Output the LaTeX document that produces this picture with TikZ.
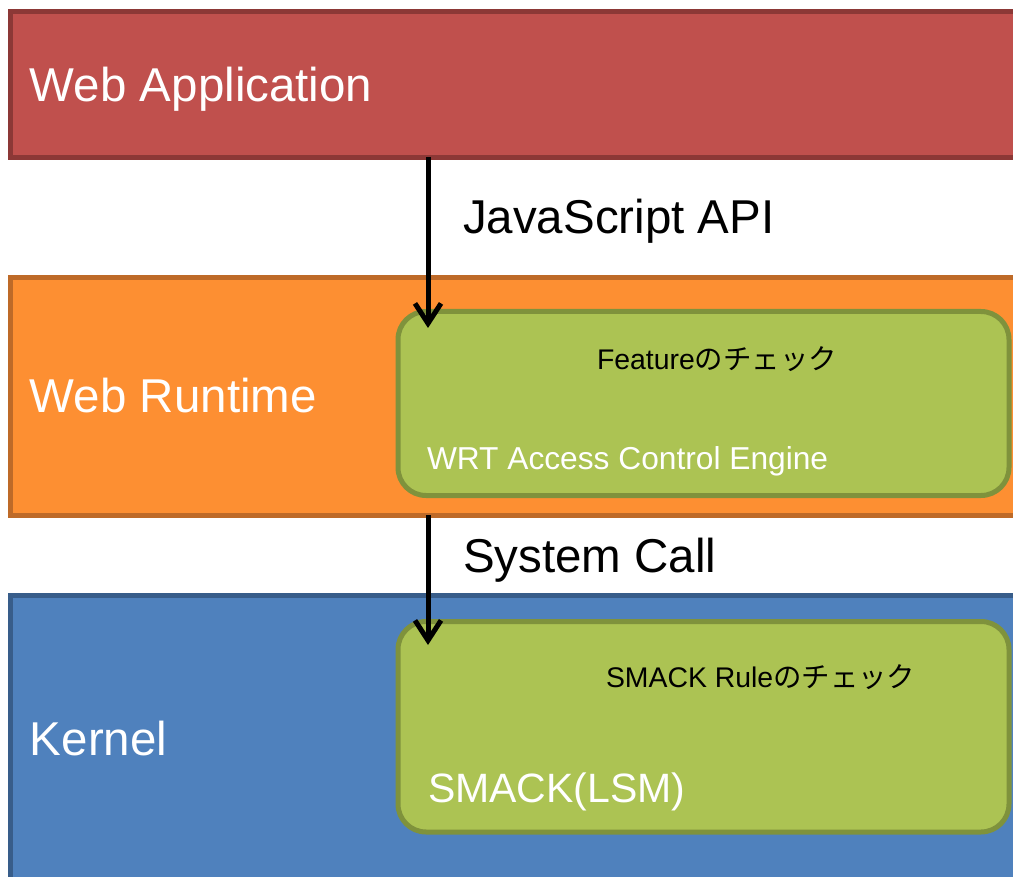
\documentclass[tikz,border=0pt]{standalone}
\usepackage{fontspec}
\setmainfont{Liberation Sans}
\newfontfamily\jpfont{Noto Sans CJK JP}
\usetikzlibrary{arrows.meta}

\definecolor{appfill}{HTML}{C0504D}
\definecolor{appline}{HTML}{8C3836}
\definecolor{wrtfill}{HTML}{FD8F32}
\definecolor{wrtline}{HTML}{BE6A28}
\definecolor{kerfill}{HTML}{4F81BD}
\definecolor{kerline}{HTML}{385D8A}
\definecolor{engfill}{HTML}{ACC353}
\definecolor{engline}{HTML}{7F923C}

\tikzset{
  layer/.style={rectangle, anchor=north west, inner sep=0pt, outer sep=0pt,
    line width=5pt, minimum width=1019.5pt},
  engine/.style={rectangle, rounded corners=28pt, anchor=north west,
    inner sep=0pt, outer sep=0pt, line width=5pt, draw=engline, fill=engfill,
    minimum width=611pt},
  lbl/.style={anchor=base west, inner sep=0pt, outer sep=0pt},
  big/.style={font=\fontsize{47.5}{57}\selectfont},
  mid/.style={font=\fontsize{41}{49}\selectfont},
  small/.style={font=\fontsize{28.4}{34}\selectfont},
  eng/.style={font=\fontsize{31.7}{38}\selectfont},
  call/.style={line width=5pt, -{Straight Barb[length=20pt, width=26pt, line width=5pt]}},
}

\begin{document}
\begin{tikzpicture}[x=1pt, y=-1pt]
  \clip (0,0) rectangle (1013,877);

  % layers
  \node[layer, draw=appline, fill=appfill, minimum height=146pt] (app) at (10.5,11.5) {};
  \node[layer, draw=wrtline, fill=wrtfill, minimum height=237.5pt] (wrt) at (10.5,277.5) {};
  \node[layer, draw=kerline, fill=kerfill, minimum height=400pt] (ker) at (10.5,595.5) {};

  % access control engines
  \node[engine, minimum height=184pt] (ace) at (398,311.5) {};
  \node[engine, minimum height=210.5pt] (smack) at (398,621.5) {};

  % layer names
  \node[lbl, big, text=white] (appname) at (30,102) {Web Application};
  \node[lbl, big, text=white] (wrtname) at (30,413) {Web Runtime};
  \node[lbl, big, text=white] (kername) at (30,755) {Kernel};

  % engine texts
  \node[lbl, small] (acecheck) at (597,370) {Feature{\jpfont のチェック}};
  \node[lbl, eng, text=white] (acename) at (427,470) {WRT Access Control Engine};
  \node[lbl, small] (smackcheck) at (606,687) {SMACK Rule{\jpfont のチェック}};
  \node[lbl, mid, text=white] (smackname) at (428,802) {SMACK(LSM)};

  % interface labels
  \node[lbl, big] (jsapi) at (463,234) {JavaScript API};
  \node[lbl, big] (syscall) at (463,572) {System Call};

  % calls between layers
  \coordinate (apitip) at (428,328);
  \coordinate (calltip) at (428,645);
  \draw[call] (app.south -| apitip) -- (apitip);
  \draw[call] (wrt.south -| calltip) -- (calltip);
\end{tikzpicture}
\end{document}
